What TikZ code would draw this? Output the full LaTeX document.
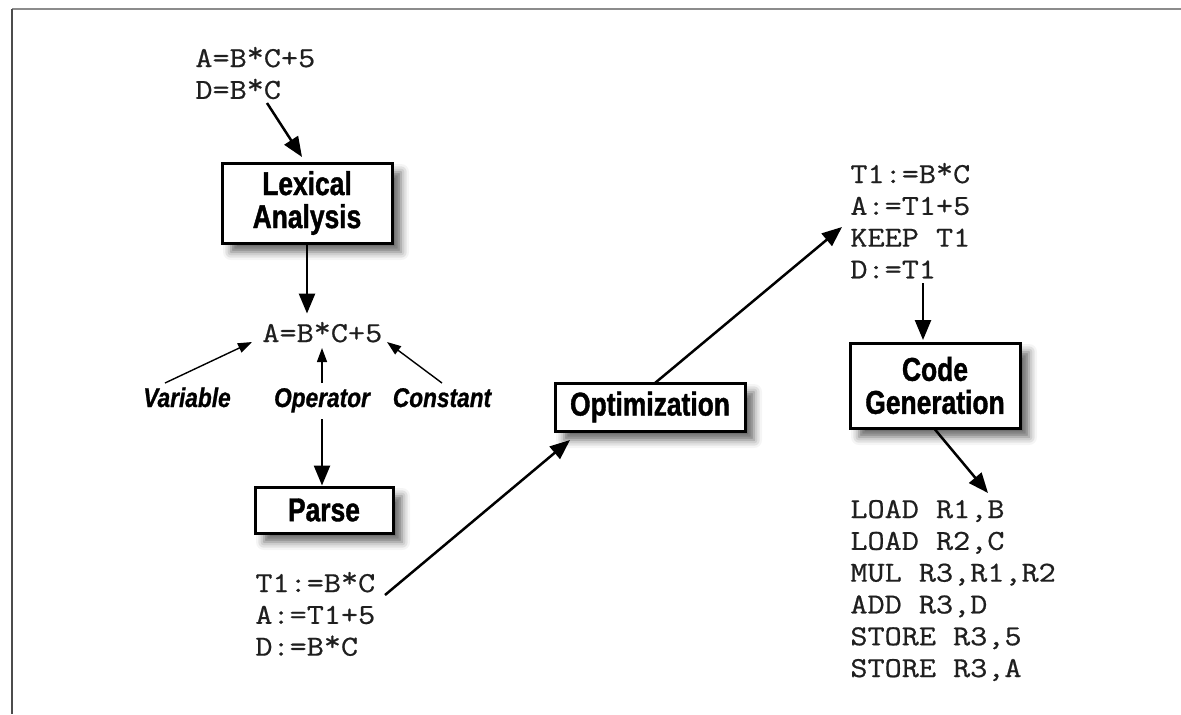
\documentclass[tikz,border=0pt]{standalone}
\usepackage{fontspec}
\setmonofont{Latin Modern Mono}[FakeStretch=1.15,FakeBold=0.7]
\newfontfamily\labfont{Liberation Sans}[FakeStretch=0.8,FakeBold=1.2]
\newfontfamily\rolefont{Liberation Sans}[FakeStretch=0.84,FakeBold=0.8]
\newcommand{\rast}{\raisebox{2.5pt}{*}}
\usetikzlibrary{arrows.meta,shadows.blur}
\begin{document}
\begin{tikzpicture}[x=0.5pt,y=-0.5pt,
  box/.style={draw=black, line width=1.5pt, fill=white, align=center, inner sep=0pt,
    font=\labfont\bfseries\fontsize{16.5}{16.5}\selectfont,
    blur shadow={shadow xshift=4.5pt, shadow yshift=-4.5pt, shadow blur radius=4pt, shadow opacity=60}},
  code/.style={anchor=base west, inner sep=0pt, text=black!88,
    font=\ttfamily\fontsize{14.45}{15.9}\selectfont},
  role/.style={anchor=base, inner sep=0pt,
    font=\rolefont\bfseries\itshape\fontsize{13.5}{14}\selectfont},
  bigarrow/.style={line width=1.25pt, -{Triangle[length=10pt,width=8pt]}},
  thinarrow/.style={line width=0.7pt, -{Triangle[length=7pt,width=5pt]}},
]
\useasboundingbox (0,0) rectangle (1181,714);
% frame
\draw[black!45, line width=1.3pt] (12,9) -- (1181,9);
\draw[black!70, line width=1.2pt] (12,9) -- (12,714);

% nodes
\node[code] (src) at (195,67) {\begin{tabular}[t]{@{}l@{}}A=B\rast C+5\\D=B\rast C\end{tabular}};
\node[box, minimum width=85pt, minimum height=40pt] (lex) at (307,203) {Lexical\\Analysis};
\node[code] (expr) at (262,342) {A=B\rast C+5};
\node[role] (var) at (187,407) {Variable};
\node[role] (op) at (322,407) {Operator};
\node[role] (con) at (442,407) {Constant};
\node[box, minimum width=69pt, minimum height=23pt] (parse) at (324,510) {Parse};
\node[code] (ir) at (255,592) {\begin{tabular}[t]{@{}l@{}}T1:=B\rast C\\A:=T1+5\\D:=B\rast C\end{tabular}};
\node[box, minimum width=95pt, minimum height=24pt] (opt) at (650,407) {Optimization};
\node[code] (oir) at (850,183) {\begin{tabular}[t]{@{}l@{}}T1:=B\rast C\\A:=T1+5\\KEEP T1\\D:=T1\end{tabular}};
\node[box, minimum width=85pt, minimum height=42.5pt] (cg) at (935,385.5) {Code\\Generation};
\node[code] (asm) at (850,518) {\begin{tabular}[t]{@{}l@{}}LOAD R1,B\\LOAD R2,C\\MUL R3,R1,R2\\ADD R3,D\\STORE R3,5\\STORE R3,A\end{tabular}};

% connector end points
\coordinate (srcOut) at (267,103);
\coordinate (lexIn) at (302,157);
\coordinate (varTail) at (165,383);
\coordinate (varTip) at (252,342);
\coordinate (opTail) at (322,383);
\coordinate (opTip) at (322,348);
\coordinate (conTail) at (442,383);
\coordinate (conTip) at (387,342);
\coordinate (irOut) at (385,595);
\coordinate (optIn) at (570,440);
\coordinate (optOut) at (655,383);
\coordinate (oirIn) at (842,227);
\coordinate (oirOut) at (923,283);
\coordinate (cgIn) at (923,340);
\coordinate (asmIn) at (988,493);

% connectors
\draw[bigarrow] (srcOut) -- (lexIn);
\draw[bigarrow, shorten >=4pt] (lex.south) -- (lex.south |- expr.north);
\draw[thinarrow] (varTail) -- (varTip);
\draw[thinarrow] (opTail) -- (opTip);
\draw[thinarrow] (conTail) -- (conTip);
\draw[bigarrow] ([yshift=-3pt]op.south) -- (op.south |- parse.north);
\draw[bigarrow] (irOut) -- (optIn);
\draw[bigarrow] (optOut) -- (oirIn);
\draw[bigarrow] (oirOut) -- (cgIn);
\draw[bigarrow] (cg.south) -- (asmIn);
\end{tikzpicture}
\end{document}
